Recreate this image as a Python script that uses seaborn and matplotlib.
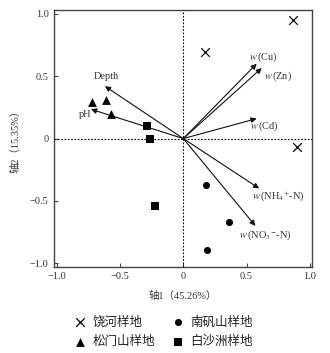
import matplotlib
matplotlib.use("Agg")
import matplotlib.pyplot as plt
import seaborn as sns
import pandas as pd

# ---- data ----
raohe_x = [0.17, 0.87, 0.90]
raohe_y = [0.69, 0.95, -0.07]
nanfan_x = [0.18, 0.36, 0.19]
nanfan_y = [-0.37, -0.67, -0.89]
songmen_x = [-0.72, -0.61, -0.57]
songmen_y = [0.29, 0.31, 0.20]
baisha_x = [-0.29, -0.26, -0.22]
baisha_y = [0.10, 0.00, -0.54]

site_names = ["饶河样地", "南矾山样地", "松门山样地", "白沙洲样地"]

var_names = ["Depth", "pH", "w(Cu)", "w(Zn)", "w(Cd)", "w(NH4+-N)", "w(NO3--N)"]
var_x = [-0.62, -0.73, 0.58, 0.62, 0.58, 0.60, 0.57]
var_y = [0.42, 0.235, 0.60, 0.565, 0.16, -0.40, -0.70]
var_labels = ["Depth", "pH", r"$w\,$(Cu)", r"$w\,$(Zn)", r"$w\,$(Cd)",
              r"$w\,$(NH$_4$$^{+}$-N)", r"$w\,$(NO$_3$$^{-}$-N)"]
label_x = [-0.61, -0.775, 0.63, 0.75, 0.64, 0.75, 0.65]
label_y = [0.50, 0.19, 0.655, 0.50, 0.095, -0.46, -0.775]

xticks = [-1.0, -0.5, 0, 0.5, 1.0]
xticklabels = ["\u22121.0", "\u22120.5", "0", "0.5", "1.0"]
yticks = [-1.0, -0.5, 0, 0.5, 1.0]
yticklabels = ["\u22121.0", "\u22120.5", "0", "0.5", "1.0"]

xlabel = "轴1（45.26%）"
ylabel = "轴2（15.35%）"

# ---- build table ----
rows = []
for name, xs, ys in zip(site_names,
                        [raohe_x, nanfan_x, songmen_x, baisha_x],
                        [raohe_y, nanfan_y, songmen_y, baisha_y]):
    for a, b in zip(xs, ys):
        rows.append({"x": a, "y": b, "site": name})
df = pd.DataFrame(rows)

sns.set_style("ticks")
plt.rcParams["font.family"] = ["Liberation Serif", "Noto Sans CJK SC", "DejaVu Sans"]
plt.rcParams["mathtext.fontset"] = "stix"
plt.rcParams["axes.unicode_minus"] = True

txt_color = "#333333"

fig = plt.figure(figsize=(3.3, 3.53), dpi=100)
ax = fig.add_axes([0.1645, 0.2445, 0.78, 0.727])

ax.axhline(0, ls=(0, (1.5, 1.5)), color="black", lw=0.8, zorder=1)
ax.axvline(0, ls=(0, (1.5, 1.5)), color="black", lw=0.8, zorder=1)

markers = {"饶河样地": "x", "南矾山样地": "o", "松门山样地": "^", "白沙洲样地": "s"}
sizes_map = {"饶河样地": 38, "南矾山样地": 26, "松门山样地": 40, "白沙洲样地": 34}
for name in site_names:
    sub = df[df["site"] == name]
    sns.scatterplot(data=sub, x="x", y="y", marker=markers[name], color="black",
                    s=sizes_map[name], linewidth=0.9 if name == "饶河样地" else 0,
                    edgecolor="black", ax=ax, label=name, zorder=3)

for vx, vy, lab, lx, ly in zip(var_x, var_y, var_labels, label_x, label_y):
    ax.annotate("", xy=(vx, vy), xytext=(0, 0),
                arrowprops=dict(arrowstyle="-|>", lw=0.8, color="#111111",
                                mutation_scale=8, shrinkA=0, shrinkB=0), zorder=2)
    ax.text(lx, ly, lab, ha="center", va="center", fontsize=7.5, color=txt_color)

ax.set_xlim(-1.02, 1.015)
ax.set_ylim(-1.027, 1.03)
ax.set_xticks(xticks)
ax.set_xticklabels(xticklabels)
ax.set_yticks(yticks)
ax.set_yticklabels(yticklabels)
ax.tick_params(direction="in", length=3, width=0.8, labelsize=7.5,
               colors="#444444", labelcolor=txt_color, pad=4)
for sp in ax.spines.values():
    sp.set_color("#444444")
    sp.set_linewidth(1.0)
ax.set_xlabel(xlabel, fontsize=7.5, color=txt_color, labelpad=7)
ax.set_ylabel(ylabel, fontsize=7.5, color=txt_color, labelpad=7)

handles, labels = ax.get_legend_handles_labels()
ax.get_legend().remove()
order = [0, 2, 1, 3]
leg = fig.legend([handles[i] for i in order], [labels[i] for i in order],
                 loc="center", bbox_to_anchor=(0.49, 0.06), ncol=2, frameon=False,
                 prop={"family": ["Noto Sans CJK SC"], "size": 9},
                 handletextpad=0.25, columnspacing=1.1, labelspacing=0.5,
                 handlelength=1.5)
for t in leg.get_texts():
    t.set_color("#222222")

fig.savefig("out.png", dpi=100)
